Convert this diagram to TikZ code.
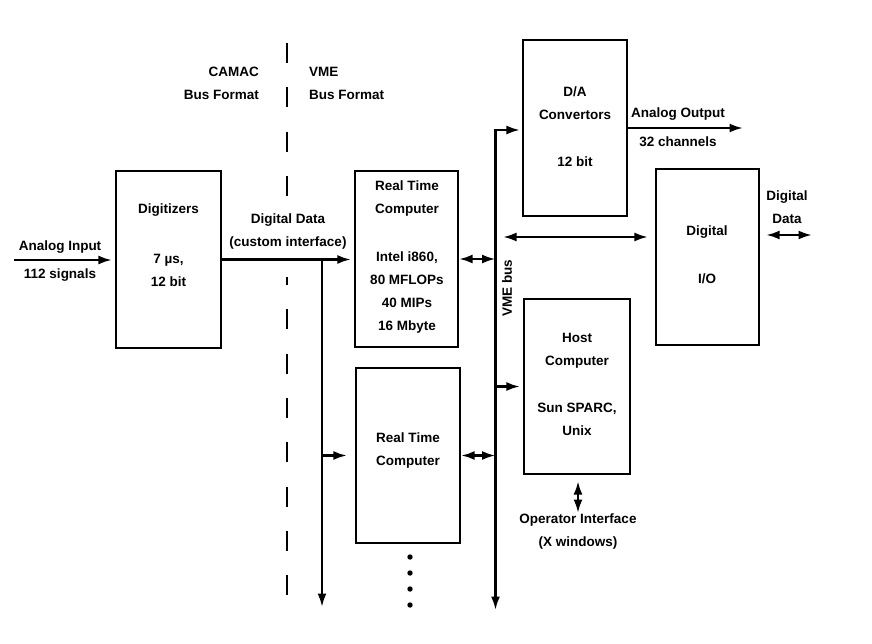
\documentclass[tikz,border=0pt]{standalone}
\usepackage{fontspec}
\setmainfont{Liberation Sans}
\usetikzlibrary{arrows.meta}
\begin{document}
\begin{tikzpicture}[x=1pt,y=-1pt,
  every node/.style={font=\fontsize{13.5}{23}\selectfont\bfseries, inner sep=0pt},
  blk/.style={draw, line width=2.2pt, minimum width=104pt, minimum height=176pt},
  txt/.style={align=center},
  tip/.tip={Latex[length=13.5pt,width=9pt]},
  arr/.style={line width=2.4pt, -tip},
  darr/.style={line width=2.4pt, tip-tip},
  sep/.style={line width=2.2pt, dash pattern=on 20pt off 24.3pt}]
\fill[white] (0,0) rectangle (872,644);
\useasboundingbox (0,0) rectangle (872,644);

% boxes
\node[blk, minimum width=105pt, minimum height=177pt] (dig) at (168.5,259.5) {};
\node[blk, minimum width=103pt] (rtc1) at (406.5,259) {};
\node[blk, minimum height=175pt] (rtc2) at (408,455.5) {};
\node[blk] (da) at (575,128) {};
\node[blk, minimum width=103pt] (dio) at (707.5,257) {};
\node[blk, minimum width=106pt, minimum height=175pt] (host) at (577,386.5) {};

% box texts
\node[txt] (digA) at (168.5,210) {Digitizers};
\node[txt] (digB) at (168.5,270.5) {7 µs,\\12 bit};
\node[txt] (rtc1A) at (407,198.5) {Real Time\\Computer};
\node[txt] (rtc1B) at (407,292.5) {Intel i860,\\80 MFLOPs\\40 MIPs\\16 Mbyte};
\node[txt] (rtc2A) at (408,450.5) {Real Time\\Computer};
\node[txt] (daA) at (575,103) {D/A\\Convertors};
\node[txt] (daB) at (575,162) {12 bit};
\node[txt] (dioA) at (707,232) {Digital};
\node[txt] (dioB) at (707,279) {I/O};
\node[txt] (hostA) at (577,350.5) {Host\\Computer};
\node[txt] (hostB) at (577,419.5) {Sun SPARC,\\Unix};

% labels
\node[txt] (ainL) at (60,247) {Analog Input};
\node[txt] (ainS) at (60,275) {112 signals};
\node[txt] (ddL) at (288,231.5) {Digital Data\\(custom interface)};
\node[align=right, anchor=east] (camac) at (259,83.5) {CAMAC\\Bus Format};
\node[align=left, anchor=west] (vme) at (309,83.5) {VME\\Bus Format};
\node[txt] (aoL) at (678,114) {Analog Output};
\node[txt] (aoS) at (678,142) {32 channels};
\node[txt] (ddR) at (787,207.5) {Digital\\Data};
\node[txt] (opL) at (578,531.5) {Operator Interface\\(X windows)};
\node[rotate=90] (vmebus) at (507,288) {VME bus};

% dashed separator
\coordinate (s1) at (287,43);
\coordinate (s2) at (287,197);
\coordinate (s3) at (287,277);
\coordinate (s4) at (287,595);
\draw[sep] (s1) -- (s2);
\draw[sep, dash phase=12pt] (s3) -- (s4);

% connectors
\coordinate (ain) at (14,260);
\draw[arr, shorten >=3pt] (ain) -- (ain -| dig.west);
\draw[arr, shorten >=3pt] (dig.east) -- (dig.east -| rtc1.west);
\coordinate (br) at (322,259.5);
\coordinate (brend) at (322,607);
\draw[arr] (br) -- (brend);
\draw[arr, shorten >=8pt] (br |- rtc2.west) -- (rtc2.west);

\coordinate (bt) at (495.5,130);
\coordinate (bb) at (495.5,610);
\draw[darr, shorten >=2pt] (bb) -- (bt) -- (bt -| da.west);
\draw[darr] (rtc1.east) -- (rtc1.east -| bt);
\draw[darr] (rtc2.east) -- (rtc2.east -| bt);
\draw[arr, shorten >=3pt] (host.west -| bt) -- (host.west);

\coordinate (dioa) at (503,237);
\draw[darr, shorten <=7.5pt, shorten >=7pt] (dioa -| bt) -- (dioa -| dio.west);
\coordinate (dd2) at (812,235);
\draw[darr, shorten <=6pt] (dio.east |- dd2) -- (dd2);
\coordinate (aout) at (743,128);
\draw[arr] (da.east) -- (aout);
\coordinate (opi) at (578,513);
\draw[darr, shorten <=6pt] (host.south -| opi) -- (opi);

% continuation dots
\foreach \yy in {557,573,589,605} \fill (410,\yy) circle (2.7pt);
\end{tikzpicture}
\end{document}
